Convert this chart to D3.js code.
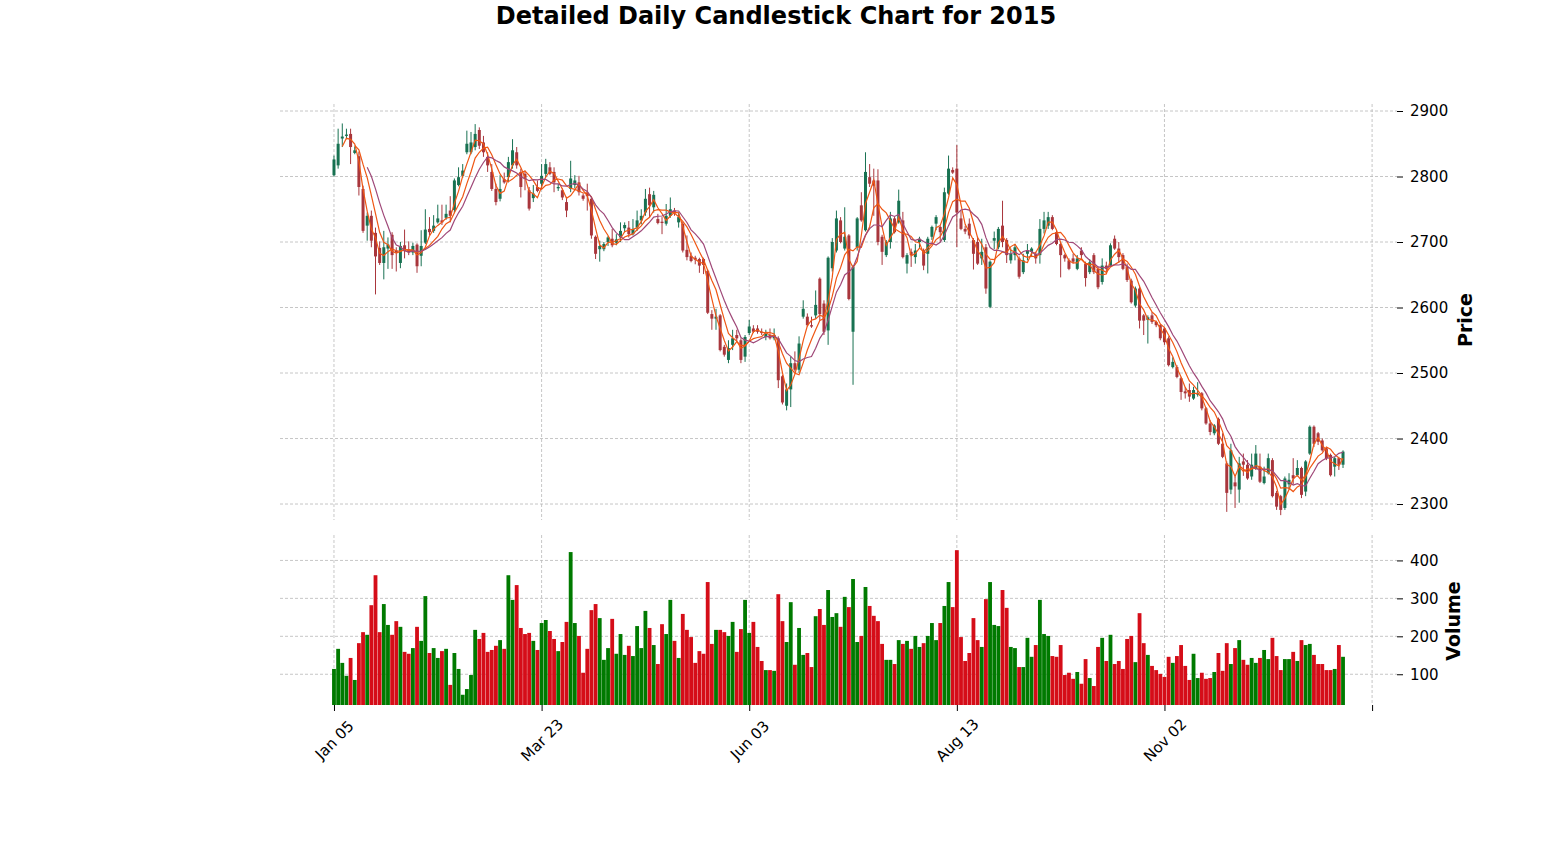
<!DOCTYPE html>
<html>
<head>
<meta charset="utf-8">
<script src="https://cdnjs.cloudflare.com/ajax/libs/d3/7.8.5/d3.min.js"></script>
<style>
  body { margin: 0; background: #fff; }
  svg { font-family: "DejaVu Sans", sans-serif; }
  .grid line { stroke: #b8b8b8; stroke-width: 0.8; stroke-dasharray: 3,2; }
</style>
</head>
<body>
<svg id="chart"></svg>
<script>
// Shanghai exchange holidays falling on weekdays in 2015
const holidays = ["2015-01-01","2015-01-02","2015-02-18","2015-02-19","2015-02-20","2015-02-23","2015-02-24",
  "2015-04-06","2015-05-01","2015-06-22","2015-09-03","2015-09-04",
  "2015-10-01","2015-10-02","2015-10-05","2015-10-06","2015-10-07"];

const opens = [2802,2817,2858,2862,2865,2836,2831,2781,2725,2740, 2714,2691,2668,2690,2711,2687,2668,2695,2689,2684,
  2696,2679,2699,2720,2717,2730,2733,2737,2748,2749, 2787,2801,2837,2837,2845,2871,2852,2830,2807,2781,
  2766,2796,2799,2817,2837,2807,2804,2779,2767,2784, 2789,2804,2814,2807,2782,2779,2761,2781,2787,2791,
  2771,2775,2766,2708,2689,2689,2700,2705,2699,2707, 2721,2722,2712,2722,2733,2745,2773,2753,2735,2731,
  2728,2740,2748,2730,2728,2688,2679,2676,2674,2674, 2656,2590,2583,2588,2540,2520,2543,2558,2550,2525,
  2561,2568,2568,2563,2555,2558,2553,2553,2495,2450, 2475,2515,2505,2586,2586,2573,2588,2644,2606,2565,
  2660,2687,2733,2690,2710,2563,2692,2756,2718,2799, 2794,2794,2708,2680,2700,2736,2730,2733,2667,2685,
  2677,2700,2687,2682,2708,2728,2723,2703,2774,2810, 2812,2736,2720,2728,2703,2700,2675,2692,2601,2702,
  2692,2725,2703,2672,2680,2675,2654,2682,2685,2682, 2680,2720,2725,2738,2715,2697,2680,2672,2675,2659,
  2687,2667,2654,2680,2659,2639,2664,2664,2705,2690, 2680,2662,2641,2603,2629,2588,2581,2588,2578,2573,
  2568,2553,2509,2509,2492,2472,2474,2461,2467,2469, 2446,2423,2408,2430,2392,2362,2322,2333,2322,2365,
  2360,2342,2355,2357,2332,2347,2367,2317,2312,2294, 2330,2344,2344,2355,2319,2377,2418,2408,2397,2385,
  2375,2357,2370,2360];

const highs = [2832,2873,2881,2873,2873,2846,2838,2786,2745,2748, 2722,2701,2717,2707,2715,2692,2700,2719,2701,2699,
  2698,2718,2750,2738,2741,2757,2757,2757,2770,2797, 2814,2819,2870,2868,2880,2875,2862,2837,2819,2789,
  2802,2806,2830,2857,2845,2812,2809,2784,2787,2794, 2819,2827,2822,2814,2789,2782,2769,2824,2802,2801,
  2774,2789,2768,2710,2702,2700,2709,2720,2712,2730, 2730,2732,2735,2748,2750,2781,2783,2778,2743,2738,
  2758,2768,2752,2745,2731,2710,2684,2679,2676,2676, 2658,2596,2598,2590,2543,2550,2566,2566,2553,2558,
  2581,2573,2573,2568,2566,2568,2568,2556,2497,2484, 2525,2533,2556,2611,2591,2586,2626,2646,2611,2678,
  2706,2748,2738,2753,2712,2665,2738,2776,2837,2819, 2812,2811,2711,2703,2746,2739,2780,2746,2683,2690,
  2697,2708,2690,2708,2725,2741,2725,2783,2832,2814, 2848,2748,2725,2736,2706,2708,2705,2697,2672,2716,
  2723,2763,2706,2690,2697,2678,2682,2697,2692,2685, 2735,2746,2746,2741,2718,2700,2682,2675,2682,2680,
  2692,2670,2674,2683,2662,2675,2670,2698,2710,2700, 2683,2667,2644,2632,2634,2590,2588,2593,2580,2575,
  2570,2556,2524,2512,2494,2478,2484,2479,2486,2471, 2448,2428,2422,2432,2408,2365,2392,2342,2372,2377,
  2367,2377,2390,2377,2357,2377,2370,2320,2314,2342, 2347,2370,2367,2357,2367,2420,2420,2410,2400,2387,
  2377,2372,2372,2382];

const lows = [2800,2812,2845,2857,2819,2834,2771,2714,2702,2692, 2620,2665,2643,2659,2659,2655,2660,2675,2680,2680,
  2653,2663,2697,2710,2714,2728,2726,2734,2730,2744, 2785,2798,2834,2834,2840,2842,2830,2807,2778,2756,
  2762,2789,2791,2812,2812,2768,2779,2748,2761,2776, 2781,2799,2802,2776,2778,2764,2738,2776,2782,2771,
  2763,2748,2705,2674,2670,2686,2694,2692,2695,2700, 2715,2707,2710,2717,2727,2740,2738,2745,2727,2712,
  2725,2737,2740,2722,2684,2672,2669,2666,2653,2651, 2590,2566,2566,2533,2525,2515,2535,2548,2515,2517,
  2558,2561,2560,2558,2550,2551,2550,2477,2452,2443, 2448,2502,2500,2583,2571,2569,2583,2580,2558,2543,
  2655,2684,2698,2687,2611,2482,2687,2731,2716,2784, 2740,2695,2665,2677,2690,2713,2728,2675,2652,2662,
  2667,2690,2657,2652,2703,2718,2700,2700,2772,2804, 2692,2718,2712,2705,2658,2665,2665,2621,2599,2689,
  2689,2692,2668,2667,2672,2644,2651,2672,2677,2667, 2667,2713,2720,2718,2695,2646,2670,2657,2667,2657,
  2675,2632,2651,2651,2628,2635,2654,2662,2688,2668, 2657,2639,2606,2600,2568,2558,2545,2575,2570,2550,
  2543,2510,2507,2492,2459,2461,2456,2459,2464,2443, 2421,2405,2405,2390,2370,2288,2315,2294,2302,2343,
  2337,2337,2352,2332,2330,2345,2310,2291,2283,2291, 2322,2330,2342,2309,2312,2375,2387,2390,2380,2367,
  2342,2342,2352,2355];

const closes = [2826,2850,2861,2864,2845,2840,2784,2717,2740,2702, 2678,2668,2692,2696,2680,2684,2694,2686,2684,2694,
  2663,2694,2719,2715,2725,2736,2730,2743,2740,2794, 2799,2809,2850,2852,2865,2847,2837,2817,2781,2761,
  2781,2791,2822,2840,2817,2784,2796,2751,2774,2778, 2801,2819,2804,2791,2784,2768,2748,2797,2794,2776,
  2766,2770,2710,2682,2694,2697,2707,2695,2704,2717, 2726,2712,2720,2733,2740,2766,2756,2772,2729,2729,
  2740,2750,2746,2738,2687,2677,2671,2673,2664,2665, 2592,2583,2586,2535,2528,2538,2553,2553,2520,2555,
  2571,2563,2563,2561,2560,2553,2558,2489,2455,2475, 2515,2505,2545,2598,2573,2571,2604,2590,2563,2676,
  2700,2736,2700,2708,2613,2662,2736,2733,2807,2789, 2786,2700,2685,2700,2736,2715,2763,2677,2680,2680,
  2687,2705,2664,2705,2723,2738,2715,2776,2812,2806, 2745,2720,2716,2710,2682,2667,2685,2629,2670,2706,
  2720,2700,2680,2682,2692,2647,2672,2687,2690,2675, 2720,2733,2738,2720,2697,2680,2675,2659,2670,2675,
  2680,2645,2669,2654,2631,2664,2659,2695,2690,2677, 2659,2642,2608,2629,2580,2580,2585,2578,2573,2553,
  2547,2512,2517,2494,2471,2469,2464,2474,2469,2446, 2423,2410,2420,2392,2372,2317,2382,2327,2362,2360,
  2339,2360,2377,2334,2342,2370,2312,2296,2291,2339, 2337,2339,2355,2314,2365,2418,2392,2395,2382,2370,
  2344,2370,2360,2380];

const volumes = [114,167,130,96,143,85,182,211,204,282, 361,211,285,230,204,240,225,159,154,169,
  225,188,306,156,169,143,161,167,72,156, 114,46,61,98,217,193,209,159,164,175,
  190,167,361,296,335,222,206,209,188,164, 235,243,214,193,161,185,238,422,235,201,
  104,167,269,285,248,138,169,246,154,206, 151,175,148,227,169,267,222,177,127,232,
  206,296,188,143,259,217,198,130,161,154, 343,180,217,217,211,201,238,159,219,296,
  209,238,172,135,111,111,109,311,240,185, 290,125,222,151,156,119,253,272,230,322,
  251,261,225,304,277,351,185,201,330,280, 254,240,180,138,138,127,190,180,188,167,
  201,172,182,201,235,190,235,280,343,277, 427,198,135,156,248,190,172,298,343,230,
  227,322,275,172,169,119,119,196,146,177, 296,206,201,148,146,177,98,104,88,106,
  75,140,90,69,172,196,135,204,127,135, 114,193,201,132,261,182,151,122,111,101,
  93,146,130,148,177,122,85,154,90,104, 88,90,106,156,109,182,127,169,190,138,
  125,143,130,143,164,140,196,148,111,140, 140,159,135,190,177,180,151,127,127,111,
  111,114,177,146];

const tickIdx = [0, 50, 100, 150, 200, 250];
const priceTicks = [2300, 2400, 2500, 2600, 2700, 2800, 2900];
const volumeTicks = [100, 200, 300, 400];
const mavPeriods = [3, 6, 9];
const mavColors = ["#ef5714", "#ef5714", "#9f4878"];

const width = 1552, height = 862;
const left = 280, right = 1397;
const priceTop = 104, priceBottom = 520;
const volTop = 535, volBottom = 705;

const isoFmt = d3.timeFormat("%Y-%m-%d");
const tickFmt = d3.timeFormat("%b %d");
const dates = d3.timeDays(new Date(2015, 0, 1), new Date(2016, 0, 1))
  .filter(d => d.getDay() !== 0 && d.getDay() !== 6 && !holidays.includes(isoFmt(d)));

const data = opens.map((o, i) => ({
  i, date: dates[i], open: o, high: highs[i], low: lows[i], close: closes[i], volume: volumes[i]
}));

const svg = d3.select("#chart").attr("width", width).attr("height", height);

const x = d3.scaleLinear().domain([-13, 256]).range([left, right]);
const yPrice = d3.scaleLinear().domain([2275.6, 2910.7]).range([priceBottom, priceTop]);
const yVol = d3.scaleLinear().domain([19, 467]).range([volBottom, volTop]);
const step = x(1) - x(0);

const upCandle = "#006340", downCandle = "#a02128";
const upVol = "#007a00", downVol = "#d50d18";

// grid
const grid = svg.append("g").attr("class", "grid");
[[priceTop, priceBottom], [volTop, volBottom]].forEach(([t, b]) => {
  grid.append("g").selectAll("line").data(tickIdx).join("line")
    .attr("x1", d => x(d)).attr("x2", d => x(d)).attr("y1", t).attr("y2", b);
});
grid.append("g").selectAll("line").data(priceTicks).join("line")
  .attr("x1", left).attr("x2", right).attr("y1", d => yPrice(d)).attr("y2", d => yPrice(d));
grid.append("g").selectAll("line").data(volumeTicks).join("line")
  .attr("x1", left).attr("x2", right).attr("y1", d => yVol(d)).attr("y2", d => yVol(d));

// candles
const candles = svg.append("g").attr("opacity", 0.9);
candles.selectAll("line").data(data).join("line")
  .attr("x1", d => x(d.i)).attr("x2", d => x(d.i))
  .attr("y1", d => yPrice(d.high)).attr("y2", d => yPrice(d.low))
  .attr("stroke", d => d.close >= d.open ? upCandle : downCandle)
  .attr("stroke-width", 1);
candles.selectAll("rect").data(data).join("rect")
  .attr("x", d => x(d.i) - step * 0.36)
  .attr("width", step * 0.72)
  .attr("y", d => yPrice(Math.max(d.open, d.close)))
  .attr("height", d => Math.max(0.8, Math.abs(yPrice(d.open) - yPrice(d.close))))
  .attr("fill", d => d.close >= d.open ? upCandle : downCandle);

// moving averages
mavPeriods.forEach((p, k) => {
  const pts = data.slice(p - 1).map(d => ({ i: d.i, v: d3.mean(closes.slice(d.i - p + 1, d.i + 1)) }));
  svg.append("path").datum(pts)
    .attr("fill", "none")
    .attr("stroke", mavColors[k])
    .attr("stroke-width", 1.2)
    .attr("d", d3.line().x(d => x(d.i)).y(d => yPrice(d.v)));
});

// volume
svg.append("g").selectAll("rect").data(data).join("rect")
  .attr("x", d => x(d.i) - step * 0.46)
  .attr("width", step * 0.92)
  .attr("y", d => yVol(d.volume))
  .attr("height", d => volBottom - yVol(d.volume))
  .attr("fill", d => d.close >= d.open ? upVol : downVol);

// axes
const styleAxis = g => {
  g.select(".domain").remove();
  g.attr("font-family", "DejaVu Sans").attr("font-size", 15);
  g.selectAll(".tick line").attr("stroke", "#000");
  g.selectAll(".tick text").attr("fill", "#000");
};

svg.append("g").attr("transform", `translate(${right},0)`)
  .call(d3.axisRight(yPrice).tickValues(priceTicks).tickSize(6).tickPadding(7).tickFormat(d3.format("d")))
  .call(styleAxis);

svg.append("g").attr("transform", `translate(${right},0)`)
  .call(d3.axisRight(yVol).tickValues(volumeTicks).tickSize(6).tickPadding(7).tickFormat(d3.format("d")))
  .call(styleAxis);

const xAxis = svg.append("g").attr("transform", `translate(0,${volBottom})`)
  .call(d3.axisBottom(x).tickValues(tickIdx).tickSize(6)
    .tickFormat(i => dates[i] && i < data.length ? tickFmt(dates[i]) : ""))
  .call(styleAxis);
xAxis.selectAll(".tick text")
  .attr("y", 0).attr("dy", "0.35em")
  .attr("text-anchor", "middle")
  .attr("transform", "translate(0,35) rotate(-45)");

// labels
svg.append("text")
  .attr("x", width / 2).attr("y", 24)
  .attr("text-anchor", "middle")
  .style("font-size", "24px").style("font-weight", "bold")
  .text("Detailed Daily Candlestick Chart for 2015");

svg.append("text")
  .attr("transform", "translate(1465,320) rotate(-90)")
  .attr("text-anchor", "middle").attr("dominant-baseline", "central")
  .style("font-size", "19px").style("font-weight", "bold")
  .text("Price");

svg.append("text")
  .attr("transform", "translate(1453,621) rotate(-90)")
  .attr("text-anchor", "middle").attr("dominant-baseline", "central")
  .style("font-size", "19px").style("font-weight", "bold")
  .text("Volume");
</script>
</body>
</html>
